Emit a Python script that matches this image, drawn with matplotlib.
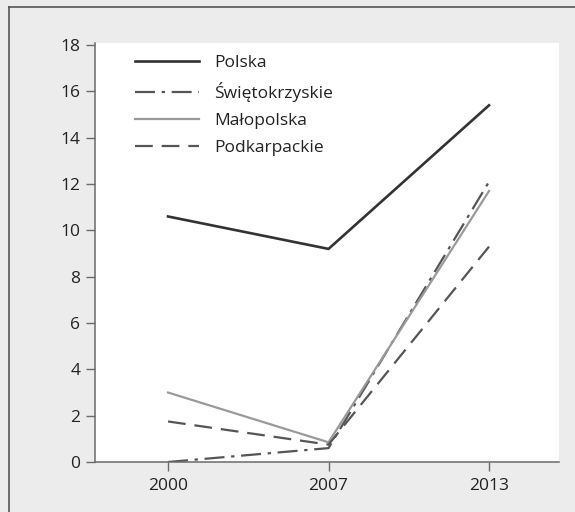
import matplotlib
matplotlib.use("Agg")
import matplotlib.pyplot as plt
from matplotlib.lines import Line2D

years = ["2000", "2007", "2013"]
polska = [10.6, 9.2, 15.4]
swietokrzyskie = [0.0, 0.6, 12.1]
malopolska = [3.0, 0.85, 11.7]
podkarpackie = [1.75, 0.75, 9.3]
series_names = ["Polska", "Świętokrzyskie", "Małopolska", "Podkarpackie"]
yticks = [0, 2, 4, 6, 8, 10, 12, 14, 16, 18]

plt.rcParams['font.family'] = ['Open Sans', 'DejaVu Sans']

W, H = 575, 512
fig = plt.figure(figsize=(W / 100, H / 100), dpi=100, facecolor='#ebeceb')
ax = fig.add_axes([95 / W, 1 - 462 / H, (559 - 95) / W, (462 - 43) / H])
ax.set_facecolor('white')

x = list(range(len(years)))
ax.plot(x, polska, color='#333333', lw=1.9, label=series_names[0])
ax.plot(x, swietokrzyskie, color='#555555', lw=1.6, dashes=(9, 3, 1.5, 3), label=series_names[1])
ax.plot(x, malopolska, color='#9a9a9a', lw=1.6, label=series_names[2])
ax.plot(x, podkarpackie, color='#555555', lw=1.6, dashes=(8, 4), label=series_names[3])

ax.set_xlim(-0.455, 2.436)
ax.set_ylim(0, 18.09)
ax.set_xticks(x)
ax.set_xticklabels(years)
ax.set_yticks(yticks)

for s in ['top', 'right']:
    ax.spines[s].set_visible(False)
for s in ['left', 'bottom']:
    ax.spines[s].set_color('#6a6a6a')
    ax.spines[s].set_linewidth(1.1)
ax.tick_params(axis='both', direction='out', length=6.5, width=1.0, color='#6a6a6a',
               labelsize=12.5, labelcolor='#222222')
ax.tick_params(axis='y', pad=4)
ax.tick_params(axis='x', pad=5)

leg = ax.legend(loc='upper left', bbox_to_anchor=(135 / W, 1 - 55 / H), bbox_transform=fig.transFigure,
                frameon=False, fontsize=12.5, handlelength=3.7, handletextpad=0.85,
                labelspacing=0.63, borderaxespad=0, borderpad=0)
for t in leg.get_texts():
    t.set_color('#222222')

fig.add_artist(Line2D([9 / W, 1], [1 - 7 / H, 1 - 7 / H], transform=fig.transFigure, color='#555555', lw=1.2))
fig.add_artist(Line2D([9 / W, 9 / W], [0, 1 - 7 / H], transform=fig.transFigure, color='#555555', lw=1.2))

fig.savefig('out.png', dpi=100, facecolor=fig.get_facecolor())
